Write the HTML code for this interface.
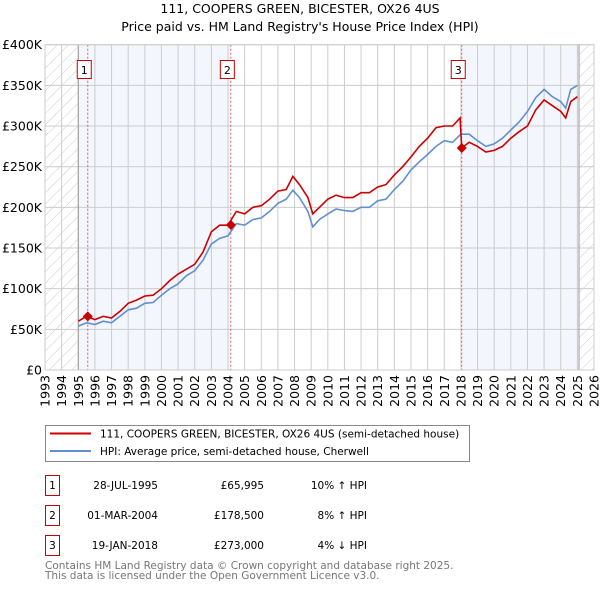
<!DOCTYPE html>
<html><head><meta charset="utf-8"><style>
body{margin:0;background:#fff;font-family:"DejaVu Sans","Liberation Sans",sans-serif;}
svg text{font-family:"DejaVu Sans","Liberation Sans",sans-serif;}
</style></head><body>
<svg id="chart" width="600" height="590" viewBox="0 0 600 590">
<defs>
<pattern id="hatch" width="8" height="8" patternUnits="userSpaceOnUse" patternTransform="rotate(45)">
<line x1="0" y1="0" x2="0" y2="8" stroke="#ccc" stroke-width="1"/></pattern>
</defs>
<text x="300" y="13" text-anchor="middle" font-size="12.5">111, COOPERS GREEN, BICESTER, OX26 4US</text>
<text x="300" y="31" text-anchor="middle" font-size="12.5">Price paid vs. HM Land Registry's House Price Index (HPI)</text>
<g id="plot"></g>
<g>
<rect x="45.5" y="425.5" width="424" height="36" fill="#fff" stroke="#888"/>
<line x1="50" y1="433.5" x2="91" y2="433.5" stroke="#cc0000" stroke-width="2"/>
<text x="100" y="437.5" font-size="10.5">111, COOPERS GREEN, BICESTER, OX26 4US (semi-detached house)</text>
<line x1="50" y1="451" x2="91" y2="451" stroke="#6090d0" stroke-width="2"/>
<text x="100" y="455" font-size="10.5">HPI: Average price, semi-detached house, Cherwell</text>
</g>
<g id="table" font-size="10.5"></g>
<text x="45" y="569" font-size="10.5" fill="#777">Contains HM Land Registry data © Crown copyright and database right 2025.</text>
<text x="45" y="579" font-size="10.5" fill="#777">This data is licensed under the Open Government Licence v3.0.</text>
</svg>
<script>
const hpiYears=[1995,1995.5,1996,1996.5,1997,1997.5,1998,1998.5,1999,1999.5,2000,2000.5,2001,2001.5,2002,2002.5,2003,2003.5,2004,2004.5,2005,2005.5,2006,2006.5,2007,2007.5,2007.9,2008.3,2008.8,2009.1,2009.5,2010,2010.5,2011,2011.5,2012,2012.5,2013,2013.5,2014,2014.5,2015,2015.5,2016,2016.5,2017,2017.5,2018,2018.5,2019,2019.5,2020,2020.5,2021,2021.5,2022,2022.5,2023,2023.5,2024,2024.3,2024.6,2025];
const hpiValues=[54,58,56,60,58,66,74,76,82,83,92,100,106,116,122,135,155,162,165,180,178,185,187,195,205,210,221,212,195,176,185,192,198,196,195,200,200,208,210,222,232,246,256,265,275,282,280,290,290,282,275,278,285,295,305,318,335,345,336,330,322,345,350];
const priceYears=[1995,1995.5,1996,1996.5,1997,1997.5,1998,1998.5,1999,1999.5,2000,2000.5,2001,2001.5,2002,2002.5,2003,2003.5,2004,2004.5,2005,2005.5,2006,2006.5,2007,2007.5,2007.9,2008.3,2008.8,2009.1,2009.5,2010,2010.5,2011,2011.5,2012,2012.5,2013,2013.5,2014,2014.5,2015,2015.5,2016,2016.5,2017,2017.5,2017.95,2018.05,2018.5,2019,2019.5,2020,2020.5,2021,2021.5,2022,2022.5,2023,2023.5,2024,2024.3,2024.6,2025];
const priceValues=[60,66,62,66,64,72,82,86,91,92,100,110,118,124,130,145,170,178,178,195,192,200,202,210,220,222,238,228,212,192,200,210,215,212,212,218,218,225,228,240,250,262,275,285,298,300,300,310,273,280,275,268,270,275,285,293,300,320,332,325,318,310,330,336];
const saleLabels=["1","2","3"];
const saleDates=[1995.57,2004.17,2018.05];
const saleValues=[65.995,178.5,273];
const saleDateText=["28-JUL-1995","01-MAR-2004","19-JAN-2018"];
const salePriceText=["£65,995","£178,500","£273,000"];
const saleHpiText=["10% ↑ HPI","8% ↑ HPI","4% ↓ HPI"];
const yTicks=[0,50,100,150,200,250,300,350,400];
const yTickLabels=["£0","£50K","£100K","£150K","£200K","£250K","£300K","£350K","£400K"];

const X0=45,X1=594,Y0=370,Y1=44.7,YR0=1993,YR1=2026,DATA_END=2025.1;
const sx=y=>X0+(y-YR0)/(YR1-YR0)*(X1-X0);
const sy=v=>Y0-v/400*(Y0-Y1);
const NS="http://www.w3.org/2000/svg";
const plot=document.getElementById('plot');
function mk(tag,attrs,parent){const e=document.createElementNS(NS,tag);for(const k in attrs)e.setAttribute(k,attrs[k]);(parent||plot).appendChild(e);return e;}

let e;
e=mk('rect',{x:X0,y:Y1,width:X1-X0,height:Y0-Y1,fill:'#fff'});
e=mk('rect',{x:sx(1995),y:Y1,width:sx(saleDates[1])-sx(1995),height:Y0-Y1,fill:'#f3f6fd'});


e=mk('rect',{x:sx(saleDates[2]),y:Y1,width:sx(DATA_END)-sx(saleDates[2]),height:Y0-Y1,fill:'#f3f6fd'});


e=mk('rect',{x:X0,y:Y1,width:sx(1995)-X0,height:Y0-Y1,fill:'url(#hatch)'});


e=mk('rect',{x:sx(DATA_END),y:Y1,width:X1-sx(DATA_END),height:Y0-Y1,fill:'url(#hatch)'});


for(let y=YR0;y<=YR1;y++){
  e=mk('line',{x1:sx(y),x2:sx(y),y1:Y1,y2:Y0,stroke:'#ccc','stroke-width':1});
  
  
  e=mk('text',{transform:`translate(${sx(y)+4.5},${Y0+5}) rotate(-90)`,'text-anchor':'end','font-size':12.5});
  e.textContent=y;
  
  
}
yTicks.forEach((v,i)=>{
  e=mk('line',{x1:X0,x2:X1,y1:sy(v),y2:sy(v),stroke:'#ccc','stroke-width':1});
  
  
  e=mk('text',{x:X0-3,y:sy(v)+4.5,'text-anchor':'end','font-size':12.5});
  e.textContent=yTickLabels[i];
  
  
});
e=mk('line',{x1:sx(1995),x2:sx(1995),y1:Y1,y2:Y0,stroke:'#999'});
e=mk('line',{x1:sx(DATA_END),x2:sx(DATA_END),y1:Y1,y2:Y0,stroke:'#999'});
saleDates.forEach((d,i)=>{
  e=mk('line',{x1:sx(d),x2:sx(d),y1:Y1,y2:Y0,stroke:'#e06060','stroke-dasharray':'2,2','stroke-width':1});
  
  
});
function path(xs,vs){return xs.map((x,i)=>(i?'L':'M')+sx(x).toFixed(1)+','+sy(vs[i]).toFixed(1)).join('');}
e=mk('path',{d:path(hpiYears,hpiValues),fill:'none',stroke:'#6090d0','stroke-width':1.6});


e=mk('path',{d:path(priceYears,priceValues),fill:'none',stroke:'#cc0000','stroke-width':1.6});


saleDates.forEach((d,i)=>{
  const cx=sx(d),cy=sy(saleValues[i]);
  e=mk('path',{d:`M${cx},${cy-5}L${cx+5},${cy}L${cx},${cy+5}L${cx-5},${cy}Z`,fill:'#cc0000'});
  
  
  e=mk('rect',{x:cx-10.5,y:60.5,width:14,height:18,fill:'#fff',stroke:'#cc0000'});
  
  
  e=mk('text',{x:cx-3.5,y:74,'text-anchor':'middle','font-size':11});
  e.textContent=saleLabels[i];
  
  
});
e=mk('rect',{x:X0,y:Y1,width:X1-X0,height:Y0-Y1,fill:'none',stroke:'#ccc'});

const tb=document.getElementById('table');
saleLabels.forEach((l,i)=>{
  const y=475+i*30;
  e=mk('rect',{x:45.5,y:y+0.5,width:14,height:20,fill:'#fff',stroke:'#cc0000'},tb);
  
  
  e=mk('text',{x:52.5,y:y+14,'text-anchor':'middle'},tb);e.textContent=l;
  
  
  e=mk('text',{x:158,y:y+14,'text-anchor':'end'},tb);e.textContent=saleDateText[i];
  
  
  e=mk('text',{x:264,y:y+14,'text-anchor':'end'},tb);e.textContent=salePriceText[i];
  
  
  e=mk('text',{x:367,y:y+14,'text-anchor':'end'},tb);e.textContent=saleHpiText[i];
  
  
});
</script>
</body></html>
